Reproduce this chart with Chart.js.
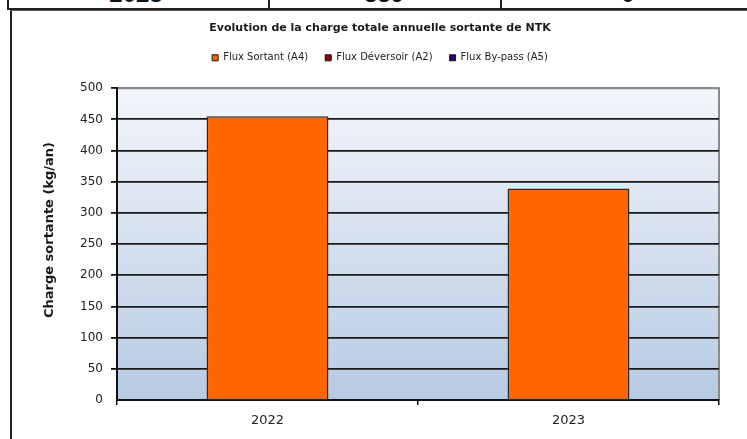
<!DOCTYPE html>
<html>
<head>
<meta charset="utf-8">
<script src="https://cdn.jsdelivr.net/npm/chart.js@4.4.1/dist/chart.umd.min.js"></script>
<style>
  html,body{margin:0;padding:0;background:#fff;width:747px;height:439px;overflow:hidden;font-family:"Liberation Sans",Arial,sans-serif;}
  .hl{position:absolute;background:#222;}
  .cell{position:absolute;top:-18px;height:24px;line-height:24px;font-weight:bold;font-size:24px;color:#111;text-align:center;width:100px;}
  #wrap{position:absolute;left:10px;top:10px;width:737px;height:429px;}
</style>
</head>
<body>
<div class="cell" style="left:86px;">2023</div>
<div class="cell" style="left:334px;">339</div>
<div class="cell" style="left:578px;">0</div>
<div class="hl" style="left:7px;top:0;width:2px;height:10px;"></div>
<div class="hl" style="left:268px;top:0;width:2px;height:9px;"></div>
<div class="hl" style="left:500px;top:0;width:2px;height:9px;"></div>
<div class="hl" style="left:7px;top:8px;width:740px;height:2px;"></div>
<div class="hl" style="left:10px;top:10px;width:2px;height:429px;"></div>
<div class="hl" style="left:10px;top:10px;width:737px;height:1px;background:#555;"></div>
<div id="wrap"><canvas id="c" width="737" height="429"></canvas></div>
<script>
const categories = ["2022", "2023"];
const fluxSortant = [455, 339];
const fluxDeversoir = [0, 0];
const fluxBypass = [0, 0];
const seriesNames = ["Flux Sortant (A4)", "Flux Déversoir (A2)", "Flux By-pass (A5)"];
const yTicks = [0, 50, 100, 150, 200, 250, 300, 350, 400, 450, 500];
const chartTitle = "Evolution de la charge totale annuelle sortante de NTK";
const yTitle = "Charge sortante (kg/an)";

const FONT = "'DejaVu Sans', sans-serif";

const bgPlugin = {
  id: 'bgPlugin',
  beforeDraw(chart) {
    const {ctx, chartArea: a} = chart;
    const g = ctx.createLinearGradient(0, a.top, 0, a.bottom);
    g.addColorStop(0, '#f3f6fb');
    g.addColorStop(1, '#b7cae3');
    ctx.save();
    ctx.fillStyle = g;
    ctx.fillRect(a.left, a.top, a.right - a.left, a.bottom - a.top);
    ctx.strokeStyle = '#8a8a8a';
    ctx.lineWidth = 2;
    ctx.beginPath();
    ctx.moveTo(a.left, a.top);
    ctx.lineTo(a.right, a.top);
    ctx.lineTo(a.right, a.bottom);
    ctx.stroke();
    ctx.restore();
  },
  afterDraw(chart) {
    const {ctx} = chart;
    ctx.save();
    ctx.translate(39.5, 220);
    ctx.rotate(-Math.PI / 2);
    ctx.font = "bold 13px " + FONT;
    ctx.fillStyle = '#1a1a1a';
    ctx.textAlign = 'center';
    ctx.textBaseline = 'middle';
    ctx.fillText(yTitle, 0, 0);
    ctx.restore();
  }
};

new Chart(document.getElementById('c'), {
  type: 'bar',
  data: {
    labels: categories,
    datasets: [
      {label: seriesNames[0], data: fluxSortant, backgroundColor: '#ff6600', borderColor: '#2a2a2a', borderWidth: 1.5, borderSkipped: false},
      {label: seriesNames[1], data: fluxDeversoir, backgroundColor: '#990000', borderColor: '#111', borderWidth: 0},
      {label: seriesNames[2], data: fluxBypass, backgroundColor: '#330066', borderColor: '#111', borderWidth: 0}
    ]
  },
  options: {
    responsive: false,
    animation: false,
    events: [],
    layout: {padding: {left: 31, right: 28, top: 0, bottom: 10}},
    datasets: {bar: {barPercentage: 0.81, categoryPercentage: 0.5}},
    plugins: {
      tooltip: {enabled: false},
      title: {
        display: true, text: chartTitle, color: '#1a1a1a',
        font: {family: FONT, size: 11, weight: 'bold'},
        padding: {top: 12, bottom: 0.6}
      },
      subtitle: {
        display: true, text: '', weight: 500,
        font: {size: 1, lineHeight: 1},
        padding: {top: 14.4, bottom: 0}
      },
      legend: {
        display: true,
        labels: {
          boxWidth: 6, boxHeight: 6, padding: 17, color: '#222',
          font: {family: FONT, size: 10},
          generateLabels(chart) {
            return chart.data.datasets.map((d, i) => ({
              text: d.label, fillStyle: d.backgroundColor, strokeStyle: '#111',
              lineWidth: 1, hidden: false, datasetIndex: i, fontColor: '#222'
            }));
          }
        }
      }
    },
    scales: {
      x: {
        stacked: true,
        offset: true,
        grid: {display: true, drawOnChartArea: false, drawTicks: true, tickLength: 5, offset: true, color: '#111', lineWidth: 1.5},
        border: {display: true, color: '#111', width: 2},
        ticks: {color: '#222', font: {family: FONT, size: 13}, padding: 8},
        afterFit(s) { s.height = 29; }
      },
      y: {
        stacked: true,
        min: 0, max: 500,
        afterBuildTicks(s) { s.ticks = yTicks.map(v => ({value: v})); },
        grid: {
          color: ctx => (ctx.tick && ctx.tick.value === 500) ? '#8a8a8a' : '#1a1a1a',
          lineWidth: ctx => (ctx.tick && ctx.tick.value === 0) ? 0 : 1.8,
          tickColor: '#111', tickLength: 6, drawTicks: true
        },
        border: {display: true, color: '#111', width: 2},
        ticks: {color: '#222', font: {family: FONT, size: 12}, padding: 8},
        afterFit(s) { s.width = 76; }
      }
    }
  },
  plugins: [bgPlugin]
});
</script>
</body>
</html>
